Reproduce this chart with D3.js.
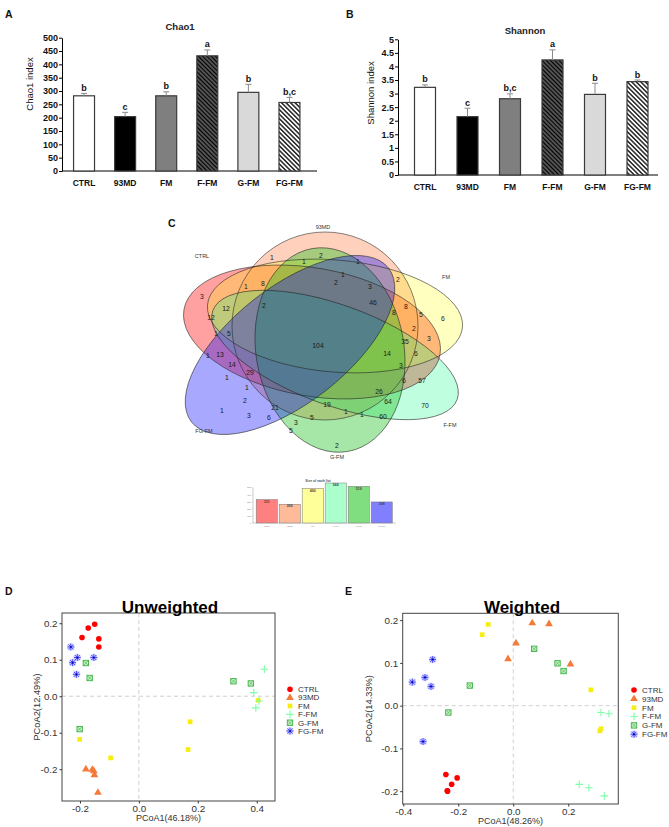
<!DOCTYPE html>
<html><head><meta charset="utf-8">
<script src="https://cdn.jsdelivr.net/npm/d3@7"></script>
<style>
body{margin:0;background:#fff}
svg{display:block}
text{font-family:"Liberation Sans",Arial,sans-serif}
</style>
</head><body>
<svg id="chart" width="669" height="827"></svg>
<script>
// ---------------- DATA ----------------
const groups = ["CTRL","93MD","FM","F-FM","G-FM","FG-FM"];
const chao1Mean = [282,204,282,432,295,257];
const chao1ErrTop = [291,220,297,454,325,276];
const chao1Letters = ["b","c","b","a","b","b,c"];
const chao1Ticks = [0,50,100,150,200,250,300,350,400,450,500];
const shannonMean = [3.23,2.15,2.81,4.24,2.97,3.44];
const shannonErrTop = [3.32,2.46,2.99,4.61,3.38,3.50];
const shannonLetters = ["b","c","b,c","a","b","b"];
const shannonTicks = [0,0.5,1,1.5,2,2.5,3,3.5,4,4.5,5];

const vennCounts = ["1","1","2","1","1","2","3","2","1","8","3","12","2","46","8","8","5","6","12","1","5","2","3","35","104","1","13","14","6","14","29","3","1","6","57","1","26","64","2","70","19","21","1","1","3","6","1","60","5","3","5","2"];
const listSizes = [331,265,490,566,519,298];
const listTicks = [0,100,200,300,400,500];

const pcoaTicksX_U = [-0.2,0,0.2,0.4];
const pcoaTicksY_U = [-0.2,-0.1,0,0.1,0.2];
const pcoaTicksX_W = [-0.4,-0.2,0,0.2];
const pcoaTicksY_W = [-0.2,-0.1,0,0.1,0.2];
// unweighted PCoA points per group (PCoA1, PCoA2)
const unweightedPts = [
  [[-0.172,0.187],[-0.150,0.197],[-0.193,0.161],[-0.136,0.157],[-0.136,0.135]],
  [[-0.180,-0.200],[-0.158,-0.201],[-0.153,-0.205],[-0.151,-0.216],[-0.139,-0.264]],
  [[-0.201,-0.118],[-0.096,-0.169],[0.174,-0.070],[0.167,-0.146],[0.405,-0.011]],
  [[0.426,0.074],[0.390,0.010],[0.408,-0.013],[0.397,-0.032]],
  [[-0.180,0.091],[-0.167,0.050],[-0.201,-0.090],[0.321,0.041],[0.380,0.035]],
  [[-0.231,0.135],[-0.209,0.106],[-0.225,0.092],[-0.153,0.106],[-0.212,0.060]]
];
const weightedPts = [
  [[-0.245,-0.161],[-0.204,-0.169],[-0.224,-0.184],[-0.240,-0.199],[-0.239,-0.200]],
  [[0.069,0.193],[0.130,0.191],[0.010,0.146],[-0.019,0.109],[0.208,0.097]],
  [[-0.091,0.190],[-0.113,0.166],[0.282,0.037],[0.319,-0.054],[0.315,-0.059]],
  [[0.319,-0.016],[0.348,-0.019],[0.240,-0.184],[0.275,-0.192],[0.331,-0.211]],
  [[0.076,0.133],[0.161,0.099],[0.183,0.081],[-0.158,0.047],[-0.236,-0.016]],
  [[-0.293,0.108],[-0.367,0.055],[-0.321,0.066],[-0.299,0.045],[-0.328,-0.084]]
];

// ---------------- STYLE / LAYOUT ----------------
const svg = d3.select("#chart");
const defs = svg.append("defs");
function hatch(id,bg,spacing,w){
  const p = defs.append("pattern").attr("id",id).attr("patternUnits","userSpaceOnUse")
    .attr("width",spacing).attr("height",spacing).attr("patternTransform","rotate(-45)");
  p.append("rect").attr("width",spacing).attr("height",spacing).attr("fill",bg);
  p.append("line").attr("x1",spacing/2).attr("x2",spacing/2).attr("y1",0).attr("y2",spacing)
    .attr("stroke","#000").attr("stroke-width",w);
}
hatch("hatchDark","#6e6e6e",3,1.5);
hatch("hatchLight","#ffffff",3.2,1.3);
const barFills = ["#ffffff","#000000","#7f7f7f","url(#hatchDark)","#d9d9d9","url(#hatchLight)"];

function panelLabel(t,x,y){
  svg.append("text").attr("x",x).attr("y",y).text(t)
    .attr("font-size",10.5).attr("font-weight","bold").attr("fill","#111");
}

function barPanel(cfg){
  const g = svg.append("g");
  const x = d3.scaleBand().domain(groups).range(cfg.xRange).paddingInner(cfg.padIn).paddingOuter(cfg.padOut);
  const y = d3.scaleLinear().domain([0,cfg.max]).range(cfg.yRange);
  const ya = g.append("g").attr("transform",`translate(${cfg.axisX},0)`)
    .call(d3.axisLeft(y).tickValues(cfg.ticks).tickSize(3).tickSizeOuter(0).tickFormat(d=>String(d)));
  ya.select(".domain").attr("stroke","#000").attr("stroke-width",1);
  ya.selectAll(".tick line").attr("stroke","#000");
  ya.selectAll(".tick text").attr("font-size",9).attr("font-weight","bold")
    .attr("font-family","Liberation Sans, Arial, sans-serif").attr("fill","#111").attr("x",-4);
  g.append("line").attr("x1",cfg.axisX).attr("x2",cfg.axisEnd).attr("y1",y(0)).attr("y2",y(0))
    .attr("stroke","#000").attr("stroke-width",1);
  g.selectAll(".xl").data(groups).join("text")
    .attr("x",d=>x(d)+x.bandwidth()/2).attr("y",cfg.labelY).attr("text-anchor","middle")
    .attr("font-size",8.5).attr("font-weight","bold").attr("fill","#111").text(d=>d);
  g.selectAll(".bar").data(cfg.mean).join("rect")
    .attr("x",(d,i)=>x(groups[i])).attr("width",x.bandwidth())
    .attr("y",d=>y(d)).attr("height",d=>y(0)-y(d))
    .attr("fill",(d,i)=>barFills[i]).attr("stroke","#3a3a3a").attr("stroke-width",1.2);
  g.selectAll(".err").data(cfg.err).join("path")
    .attr("d",(d,i)=>{const cx=x(groups[i])+x.bandwidth()/2;
      return `M${cx},${y(cfg.mean[i])}V${y(d)}M${cx-3},${y(d)}H${cx+3}`;})
    .attr("stroke","#8a8a8a").attr("stroke-width",1).attr("fill","none");
  g.selectAll(".let").data(cfg.letters).join("text")
    .attr("x",(d,i)=>x(groups[i])+x.bandwidth()/2).attr("y",(d,i)=>y(cfg.err[i])-2.5)
    .attr("text-anchor","middle").attr("font-size",9).attr("font-weight","bold").attr("fill","#111").text(d=>d);
  g.append("text").attr("x",cfg.titleX).attr("y",cfg.titleY).attr("text-anchor","middle")
    .attr("font-size",9.5).attr("font-weight","bold").attr("fill","#222").text(cfg.title);
  g.append("text").attr("transform",`translate(${cfg.ylabX},${cfg.ylabY}) rotate(-90)`)
    .attr("text-anchor","middle").attr("font-size",9.5).attr("fill","#111").text(cfg.ylabel);
}

panelLabel("A",5,18);
barPanel({xRange:[63.5,310],padIn:0.49,padOut:0.245,yRange:[171,37.7],max:500,ticks:chao1Ticks,
  axisX:62,axisEnd:317,labelY:186,mean:chao1Mean,err:chao1ErrTop,letters:chao1Letters,
  title:"Chao1",titleX:180,titleY:30,ylabel:"Chao1 index",ylabX:33,ylabY:84});
panelLabel("B",346,18);
barPanel({xRange:[403.75,658.75],padIn:0.506,padOut:0.253,yRange:[175,39.3],max:5,ticks:shannonTicks,
  axisX:398,axisEnd:658,labelY:190,mean:shannonMean,err:shannonErrTop,letters:shannonLetters,
  title:"Shannon",titleX:525,titleY:34,ylabel:"Shannon index",ylabX:374,ylabY:93});

// ---------------- VENN ----------------
panelLabel("C",168,227);
const vennColors = ["#ff0000","#ff8c5a","#ffff00","#00ff80","#20c020","#0000ff"];
const vennAlpha = [0.37,0.4,0.25,0.25,0.4,0.34];
// ellipse geometry (cx, cy, rx, ry, rotation) — each set spans across the diagram
const vennShapes = [
  [312,332,130,64,10],
  [325,326,93,94,0],
  [335,316,128,56,5],
  [335,355,130,50,20],
  [330,350,74,103,-10],
  [290,345,125,58,-38]
];
const vg = svg.append("g");
vennShapes.forEach((s,i)=>{
  vg.append("ellipse").attr("cx",0).attr("cy",0).attr("rx",s[2]).attr("ry",s[3])
    .attr("transform",`translate(${s[0]},${s[1]}) rotate(${s[4]})`)
    .attr("fill",vennColors[i]).attr("fill-opacity",vennAlpha[i]);
});
vennShapes.forEach((s,i)=>{
  vg.append("ellipse").attr("cx",0).attr("cy",0).attr("rx",s[2]).attr("ry",s[3])
    .attr("transform",`translate(${s[0]},${s[1]}) rotate(${s[4]})`)
    .attr("fill","none").attr("stroke","#222").attr("stroke-width",0.65).attr("stroke-opacity",0.85);
});
const vennLabelPos = [[272,258],[304,262],[321,256],[358,262],[343,275],[336,283],[370,287],[398,280],[246,287],[263,284],
  [202,297],[226,309],[264,306],[373,303],[406,307],[394,313],[421,315],[443,319],[211,318],[216,334],
  [229,334],[414,329],[429,339],[405,342],[318,346],[208,356],[220,355],[387,354],[416,354],[232,365],
  [250,373],[401,366],[227,378],[404,381],[422,381],[247,388],[379,392],[388,402],[245,401],[425,406],
  [327,405],[275,408],[222,411],[346,412],[249,416],[269,418],[362,415],[383,417],[312,418],[296,423],
  [291,431],[337,446]];
vg.selectAll(".vc").data(vennCounts).join("text")
  .attr("x",(d,i)=>vennLabelPos[i][0]).attr("y",(d,i)=>vennLabelPos[i][1]).attr("dy","0.35em")
  .attr("text-anchor","middle").attr("font-size",6.8).attr("fill","#1a1a1a").text(d=>d);
const vennNamePos = [[202,256],[323,227],[446,277],[450,425],[337,457],[204,431]];
vg.selectAll(".vn").data(groups).join("text")
  .attr("x",(d,i)=>vennNamePos[i][0]).attr("y",(d,i)=>vennNamePos[i][1]).attr("dy","0.35em")
  .attr("text-anchor","middle").attr("font-size",5.5).attr("fill","#333").text(d=>d);

// inset bar chart "Size of each list"
const ig = svg.append("g");
const ix = d3.scaleBand().domain(groups).range([255.5,393]).paddingInner(0.08).paddingOuter(0.03);
const iy = d3.scaleLinear().domain([0,600]).range([523,480.6]);
const insetColors = ["#ff8080","#ffbb99","#ffff99","#aaffcc","#80dd80","#8080ff"];
ig.append("line").attr("x1",253).attr("x2",253).attr("y1",iy(0)).attr("y2",iy(500)).attr("stroke","#999").attr("stroke-width",0.5);
ig.append("line").attr("x1",253).attr("x2",396).attr("y1",iy(0)).attr("y2",iy(0)).attr("stroke","#999").attr("stroke-width",0.5);
ig.selectAll(".it").data(listTicks).join("text").attr("x",251).attr("y",d=>iy(d)).attr("dy","0.35em")
  .attr("text-anchor","end").attr("font-size",2.2).attr("fill","#666").text(d=>d);
ig.selectAll(".itk").data(listTicks).join("line").attr("x1",252).attr("x2",253).attr("y1",d=>iy(d)).attr("y2",d=>iy(d)).attr("stroke","#999").attr("stroke-width",0.4);
ig.selectAll(".ib").data(listSizes).join("rect")
  .attr("x",(d,i)=>ix(groups[i])).attr("width",ix.bandwidth())
  .attr("y",d=>iy(d)).attr("height",d=>iy(0)-iy(d))
  .attr("fill",(d,i)=>insetColors[i]).attr("stroke","#777").attr("stroke-width",0.5);
ig.selectAll(".iv").data(listSizes).join("text")
  .attr("x",(d,i)=>ix(groups[i])+ix.bandwidth()/2).attr("y",d=>iy(d)+3.2)
  .attr("text-anchor","middle").attr("font-size",3.6).attr("font-weight","bold").attr("fill","#444").text(d=>d);
ig.selectAll(".ixl").data(groups).join("text")
  .attr("x",d=>ix(d)+ix.bandwidth()/2).attr("y",526.5)
  .attr("text-anchor","middle").attr("font-size",2.2).attr("fill","#777").text(d=>d);
ig.append("text").attr("x",318).attr("y",482).attr("text-anchor","middle").attr("font-size",3.4)
  .attr("font-weight","bold").attr("fill","#555").text("Size of each list");

// ---------------- PCoA ----------------
const ptColors = ["#ff0000","#f47a3a","#f7ee10","#7dffa8","#3cb043","#3b3bff"];
function marker(sel,gi,px,py){
  const c = ptColors[gi];
  if(gi===0){ sel.append("circle").attr("cx",px).attr("cy",py).attr("r",2.8).attr("fill",c); }
  else if(gi===1){ sel.append("path").attr("transform",`translate(${px},${py})`)
      .attr("d",d3.symbol(d3.symbolTriangle,26)()).attr("fill",c); }
  else if(gi===2){ sel.append("path").attr("transform",`translate(${px},${py})`)
      .attr("d",d3.symbol(d3.symbolSquare,22)()).attr("fill",c); }
  else if(gi===3){ sel.append("path").attr("d",`M${px-3.8},${py}H${px+3.8}M${px},${py-3.8}V${py+3.8}`)
      .attr("stroke",c).attr("stroke-width",1.1).attr("fill","none"); }
  else if(gi===4){
    sel.append("rect").attr("x",px-2.7).attr("y",py-2.7).attr("width",5.4).attr("height",5.4)
      .attr("fill","#c8f0c8").attr("stroke",c).attr("stroke-width",0.9);
    sel.append("path").attr("d",`M${px-2.2},${py-2.2}L${px+2.2},${py+2.2}M${px-2.2},${py+2.2}L${px+2.2},${py-2.2}`)
      .attr("stroke",c).attr("stroke-width",0.6);
  } else {
    sel.append("circle").attr("cx",px).attr("cy",py).attr("r",3.8).attr("fill","#c6c8ff").attr("opacity",0.8);
    const r=3.4, r2=2.5;
    sel.append("path").attr("d",`M${px-r},${py}H${px+r}M${px},${py-r}V${py+r}M${px-r2},${py-r2}L${px+r2},${py+r2}M${px-r2},${py+r2}L${px+r2},${py-r2}`)
      .attr("stroke",c).attr("stroke-width",0.9);
    sel.append("circle").attr("cx",px).attr("cy",py).attr("r",0.9).attr("fill","#000088");
  }
}
function pcoaPanel(cfg){
  const g = svg.append("g");
  const x = d3.scaleLinear().domain(cfg.xDom).range([cfg.left,cfg.right]);
  const y = d3.scaleLinear().domain(cfg.yDom).range([cfg.bottom,cfg.top]);
  g.append("line").attr("x1",x(0)).attr("x2",x(0)).attr("y1",cfg.top).attr("y2",cfg.bottom)
    .attr("stroke","#d0d0d0").attr("stroke-width",1).attr("stroke-dasharray","4,3");
  g.append("line").attr("x1",cfg.left).attr("x2",cfg.right).attr("y1",y(0)).attr("y2",y(0))
    .attr("stroke","#d0d0d0").attr("stroke-width",1).attr("stroke-dasharray","4,3");
  const xa = g.append("g").attr("transform",`translate(0,${cfg.bottom})`)
    .call(d3.axisBottom(x).tickValues(cfg.xTicks).tickSize(2.5).tickPadding(1.5).tickSizeOuter(0).tickFormat(d=>d.toFixed(1)));
  const ya = g.append("g").attr("transform",`translate(${cfg.left},0)`)
    .call(d3.axisLeft(y).tickValues(cfg.yTicks).tickSize(2.5).tickPadding(2).tickSizeOuter(0).tickFormat(d=>d.toFixed(1)));
  [xa,ya].forEach(a=>{
    a.select(".domain").remove();
    a.selectAll(".tick line").attr("stroke","#333");
    a.selectAll(".tick text").attr("font-size",9.8).attr("fill","#333").attr("font-family","Liberation Sans, Arial, sans-serif");
  });
  g.append("rect").attr("x",cfg.left).attr("y",cfg.top).attr("width",cfg.right-cfg.left).attr("height",cfg.bottom-cfg.top)
    .attr("fill","none").attr("stroke","#444").attr("stroke-width",1);
  cfg.pts.forEach((arr,gi)=>arr.forEach(p=>marker(g,gi,x(p[0]),y(p[1]))));
  g.append("text").attr("x",cfg.titleX).attr("y",612.5).attr("text-anchor","middle")
    .attr("font-size",17).attr("font-weight","bold").attr("fill","#000").text(cfg.title);
  g.append("text").attr("x",(cfg.left+cfg.right)/2).attr("y",cfg.bottom+19.5).attr("text-anchor","middle")
    .attr("font-size",9).attr("fill","#333").text(cfg.xlabel);
  g.append("text").attr("transform",`translate(${cfg.ylabX},${(cfg.top+cfg.bottom)/2}) rotate(-90)`)
    .attr("text-anchor","middle").attr("font-size",9.3).attr("fill","#333").text(cfg.ylabel);
  groups.forEach((gr,i)=>{
    const ly = cfg.legY + i*cfg.legStep;
    marker(g,i,cfg.legX,ly);
    g.append("text").attr("x",cfg.legX+8).attr("y",ly).attr("dy","0.35em")
      .attr("font-size",8).attr("fill","#333").text(gr);
  });
}
panelLabel("D",5,595);
pcoaPanel({left:62,right:275,top:613,bottom:801,xDom:[-0.261,0.462],yDom:[-0.287,0.228],
  xTicks:pcoaTicksX_U,yTicks:pcoaTicksY_U,pts:unweightedPts,title:"Unweighted",titleX:170,
  xlabel:"PCoA1(46.18%)",ylabel:"PCoA2(12.49%)",ylabX:40,legX:290,legY:689.3,legStep:8.35});
panelLabel("E",345,595);
pcoaPanel({left:402.7,right:618.3,top:613.3,bottom:804,xDom:[-0.402,0.382],yDom:[-0.230,0.216],
  xTicks:pcoaTicksX_W,yTicks:pcoaTicksY_W,pts:weightedPts,title:"Weighted",titleX:522,
  xlabel:"PCoA1(48.26%)",ylabel:"PCoA2(14.33%)",ylabX:372,legX:634,legY:690,legStep:8.85});
</script>
</body></html>
